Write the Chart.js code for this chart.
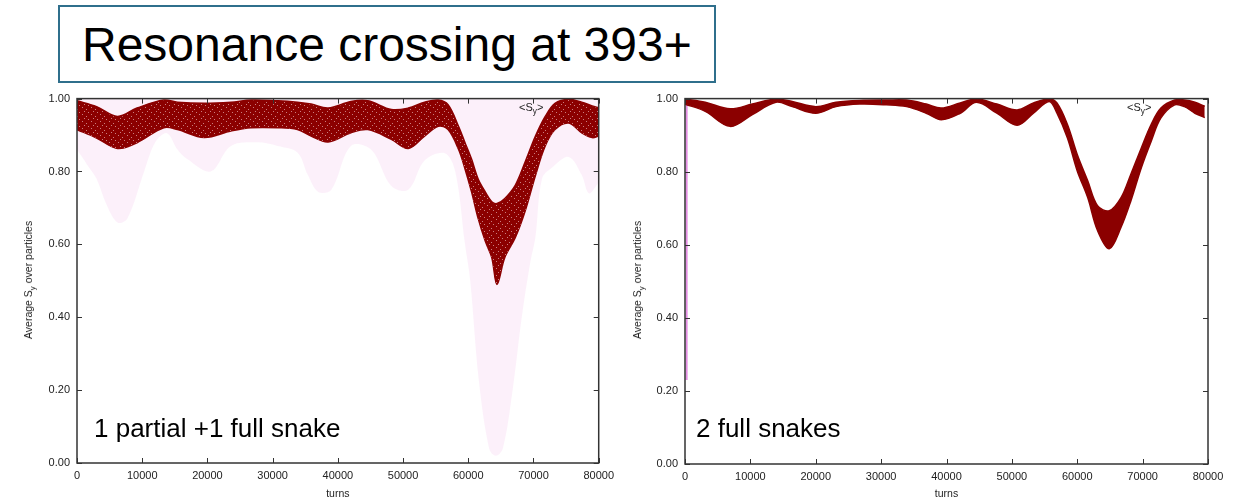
<!DOCTYPE html>
<html>
<head>
  <meta charset="UTF-8">
  <title>Resonance crossing at 393+</title>
  <script src="https://cdn.jsdelivr.net/npm/chart.js"></script>
  <style>
    body {
      margin: 0;
      width: 1242px;
      height: 500px;
      background: #ffffff;
      font-family: 'Liberation Sans', Arial, sans-serif;
      position: relative;
      overflow: hidden;
    }
    .titlebox {
      position: absolute;
      left: 58px;
      top: 5px;
      width: 632px;
      height: 74px;
      border: 2px solid #2f6f8c;
      display: flex;
      align-items: center;
      padding-left: 22px;
      box-sizing: content-box;
      font-size: 48px;
      color: #000;
    }
    .panel {
      position: absolute;
      top: 85px;
    }
    .ytitle {
      position: absolute;
      font-size: 10.5px;
      color: #222;
      white-space: nowrap;
      transform: translate(-50%, -50%) rotate(-90deg);
    }
    .key {
      position: absolute;
      font-size: 11px;
      color: #222;
    }
    sub {
      font-size: 75%;
      vertical-align: -3px;
      line-height: 0;
    }
    .label {
      position: absolute;
      font-size: 26px;
      color: #000;
      white-space: nowrap;
    }
  </style>
</head>
<body>
  <div class="titlebox">Resonance crossing at 393+</div>

  <div class="panel" style="left:0px"><canvas id="leftChart" width="620" height="415"></canvas></div>
  <div class="panel" style="left:620px"><canvas id="rightChart" width="622" height="415"></canvas></div>

  <div class="ytitle" style="left:28px; top:280px">Average S<sub>y</sub> over particles</div>
  <div class="ytitle" style="left:637px; top:280px">Average S<sub>y</sub> over particles</div>

  <div class="key" style="left:519px; top:101px">&lt;S<sub>y</sub>&gt;</div>
  <div class="key" style="left:1127px; top:101px">&lt;S<sub>y</sub>&gt;</div>

  <div class="label" style="left:94px; top:413px">1 partial +1 full snake</div>
  <div class="label" style="left:696px; top:413px">2 full snakes</div>

  <script>
    Chart.defaults.font.family = "'Liberation Sans', Arial, sans-serif";
    Chart.defaults.color = '#222';

    // x and y ticks
    const turnTicks = [0, 10000, 20000, 30000, 40000, 50000, 60000, 70000, 80000];
    const syTicks = [0, 0.2, 0.4, 0.6, 0.8, 1.0];

    // left panel: 1 partial + 1 full snake, dark band edges
    const leftTurns = [0, 3000, 6200, 9200, 13300, 15400, 19500, 23600, 26700, 30800, 33800, 35900,
      38500, 42000, 44600, 48200, 50800, 53300, 55400, 56900, 58500, 59500, 60500, 61500, 62600,
      63600, 64400, 65600, 67200, 68700, 70300, 71800, 73300, 75400, 77400, 79000, 80000];
    const leftUpper = [0.994, 0.978, 0.951, 0.974, 0.996, 0.99, 0.987, 0.99, 0.996, 0.994, 0.99, 0.985,
      0.974, 0.992, 0.994, 0.97, 0.974, 0.99, 0.996, 0.983, 0.924, 0.879, 0.834, 0.78, 0.744,
      0.717, 0.712, 0.726, 0.762, 0.825, 0.897, 0.951, 0.987, 0.998, 0.99, 0.98, 0.975];
    const leftLower = [0.915, 0.892, 0.863, 0.879, 0.92, 0.915, 0.893, 0.911, 0.92, 0.92, 0.915, 0.897,
      0.881, 0.906, 0.915, 0.888, 0.863, 0.897, 0.924, 0.915, 0.861, 0.807, 0.744, 0.672, 0.609,
      0.564, 0.49, 0.564, 0.618, 0.69, 0.789, 0.87, 0.915, 0.933, 0.906, 0.893, 0.897];

    // left panel: faint pink cloud, lower edge (cloud reaches up to 1.0)
    const pinkTurns = [0, 1500, 3000, 4500, 6200, 7700, 10300, 12000, 13800, 15400, 16900, 20500,
      23600, 27700, 30800, 33800, 35400, 37000, 39000, 42000, 45100, 48200, 50800, 53300, 56400,
      58000, 59500, 60300, 61600, 63200, 64200, 65300, 66800, 68200, 69500, 70300, 71300, 72800,
      75400, 77400, 78500, 80000];
    const pinkLower = [0.86, 0.82, 0.78, 0.71, 0.66, 0.67, 0.8, 0.88, 0.905, 0.86, 0.834, 0.8,
      0.87, 0.88, 0.87, 0.852, 0.79, 0.744, 0.75, 0.87, 0.86, 0.76, 0.75, 0.83, 0.85,
      0.8, 0.6, 0.5, 0.23, 0.04, 0.02, 0.04, 0.2, 0.4, 0.55, 0.62, 0.78, 0.81,
      0.84, 0.79, 0.74, 0.77];

    // right panel: 2 full snakes, dark band edges
    const rightTurns = [0, 3100, 6900, 10300, 13900, 16400, 20000, 23100, 26700, 30800, 33900, 36900,
      39200, 42100, 44600, 47700, 50800, 53300, 55700, 56900, 58500, 60000, 61600, 63100, 64900,
      66700, 68200, 69800, 71300, 72800, 74900, 76400, 78000, 79500];
    const rightUpper = [0.999, 0.99, 0.972, 0.985, 0.999, 0.992, 0.978, 0.99, 0.995, 0.996, 0.996, 0.985,
      0.974, 0.988, 0.999, 0.985, 0.969, 0.988, 0.999, 0.988, 0.929, 0.847, 0.775, 0.707, 0.693,
      0.729, 0.793, 0.865, 0.929, 0.974, 0.996, 0.996, 0.99, 0.979];
    const rightLower = [0.985, 0.965, 0.924, 0.956, 0.99, 0.978, 0.96, 0.978, 0.985, 0.983, 0.978, 0.96,
      0.942, 0.96, 0.99, 0.96, 0.927, 0.96, 0.992, 0.96, 0.892, 0.802, 0.729, 0.639, 0.589,
      0.648, 0.72, 0.811, 0.883, 0.947, 0.983, 0.978, 0.96, 0.948];

    // right panel: first turns drop
    const spikeTurns = [250, 250];
    const spikeVals = [1.0, 0.23];

    const darkRed = '#8b0000';

    function pts(xs, ys) {
      return xs.map((x, i) => ({ x: x, y: ys[i] }));
    }

    // speckled dark red fill, like the dense point cloud of the left plot
    function speckle() {
      const c = document.createElement('canvas');
      c.width = 9; c.height = 7;
      const g = c.getContext('2d');
      g.fillStyle = darkRed;
      g.fillRect(0, 0, 9, 7);
      g.fillStyle = 'rgba(255,225,230,0.55)';
      g.fillRect(1, 1, 1, 1);
      g.fillRect(5, 3, 1, 1);
      g.fillRect(3, 5, 1, 1);
      g.fillRect(7, 6, 1, 1);
      return document.createElement('canvas').getContext('2d').createPattern(c, 'repeat');
    }

    // gnuplot style frame with inward ticks
    const frame = {
      id: 'frame',
      afterDatasetsDraw(chart) {
        const { ctx, chartArea: a, scales } = chart;
        ctx.save();
        ctx.strokeStyle = '#333';
        ctx.lineWidth = 1;
        ctx.beginPath();
        turnTicks.forEach(t => {
          const p = Math.round(scales.x.getPixelForValue(t)) + 0.5;
          ctx.moveTo(p, a.bottom); ctx.lineTo(p, a.bottom - 5);
          ctx.moveTo(p, a.top); ctx.lineTo(p, a.top + 5);
        });
        syTicks.forEach(v => {
          const p = Math.round(scales.y.getPixelForValue(v)) + 0.5;
          ctx.moveTo(a.left, p); ctx.lineTo(a.left + 5, p);
          ctx.moveTo(a.right, p); ctx.lineTo(a.right - 5, p);
        });
        ctx.stroke();
        ctx.lineWidth = 1.5;
        ctx.strokeRect(a.left, a.top, a.right - a.left, a.bottom - a.top);
        ctx.restore();
      }
    };

    function makeOptions(yWidth, xHeight, padRight) {
      return {
        responsive: false,
        animation: false,
        layout: { padding: { left: 0, top: 13, right: padRight, bottom: 0 } },
        plugins: { legend: { display: false }, tooltip: { enabled: false } },
        elements: { point: { radius: 0 } },
        scales: {
          x: {
            type: 'linear',
            min: 0,
            max: 80000,
            afterBuildTicks: s => { s.ticks = turnTicks.map(v => ({ value: v })); },
            ticks: { font: { size: 11 }, maxRotation: 0, padding: 6, callback: v => String(v) },
            grid: { display: false, drawTicks: false },
            border: { display: false },
            title: { display: true, text: 'turns', font: { size: 10.5 }, padding: 0 },
            afterFit: s => { s.height = xHeight; }
          },
          y: {
            min: 0,
            max: 1,
            afterBuildTicks: s => { s.ticks = syTicks.map(v => ({ value: v })); },
            ticks: { font: { size: 11 }, padding: 7, callback: v => v.toFixed(2) },
            grid: { display: false, drawTicks: false },
            border: { display: false },
            afterFit: s => { s.width = yWidth; }
          }
        }
      };
    }

    new Chart(document.getElementById('leftChart').getContext('2d'), {
      type: 'line',
      data: {
        datasets: [
          {
            label: '<Sy> upper',
            data: pts(leftTurns, leftUpper),
            borderColor: darkRed,
            backgroundColor: speckle(),
            borderWidth: 1.5,
            tension: 0.35,
            fill: '+1',
            clip: 0
          },
          {
            label: '<Sy> lower',
            data: pts(leftTurns, leftLower),
            borderColor: darkRed,
            borderWidth: 1.5,
            tension: 0.35,
            fill: false,
            clip: 0
          },
          {
            label: 'particles',
            data: pts(pinkTurns, pinkLower),
            borderWidth: 0,
            borderColor: 'rgba(0,0,0,0)',
            backgroundColor: 'rgba(240,185,234,0.22)',
            tension: 0.35,
            fill: 'end',
            clip: 0
          }
        ]
      },
      options: makeOptions(77, 37, 20),
      plugins: [frame]
    });

    new Chart(document.getElementById('rightChart').getContext('2d'), {
      type: 'line',
      data: {
        datasets: [
          {
            label: '<Sy> upper',
            data: pts(rightTurns, rightUpper),
            borderColor: darkRed,
            backgroundColor: darkRed,
            borderWidth: 1.5,
            tension: 0.35,
            fill: '+1',
            clip: 0
          },
          {
            label: '<Sy> lower',
            data: pts(rightTurns, rightLower),
            borderColor: darkRed,
            borderWidth: 1.5,
            tension: 0.35,
            fill: false,
            clip: 0
          },
          {
            label: 'particles',
            data: pts(spikeTurns, spikeVals),
            borderColor: '#e48ee4',
            borderWidth: 2,
            fill: false,
            clip: 0
          }
        ]
      },
      options: makeOptions(65, 36, 34),
      plugins: [frame]
    });
  </script>
</body>
</html>
